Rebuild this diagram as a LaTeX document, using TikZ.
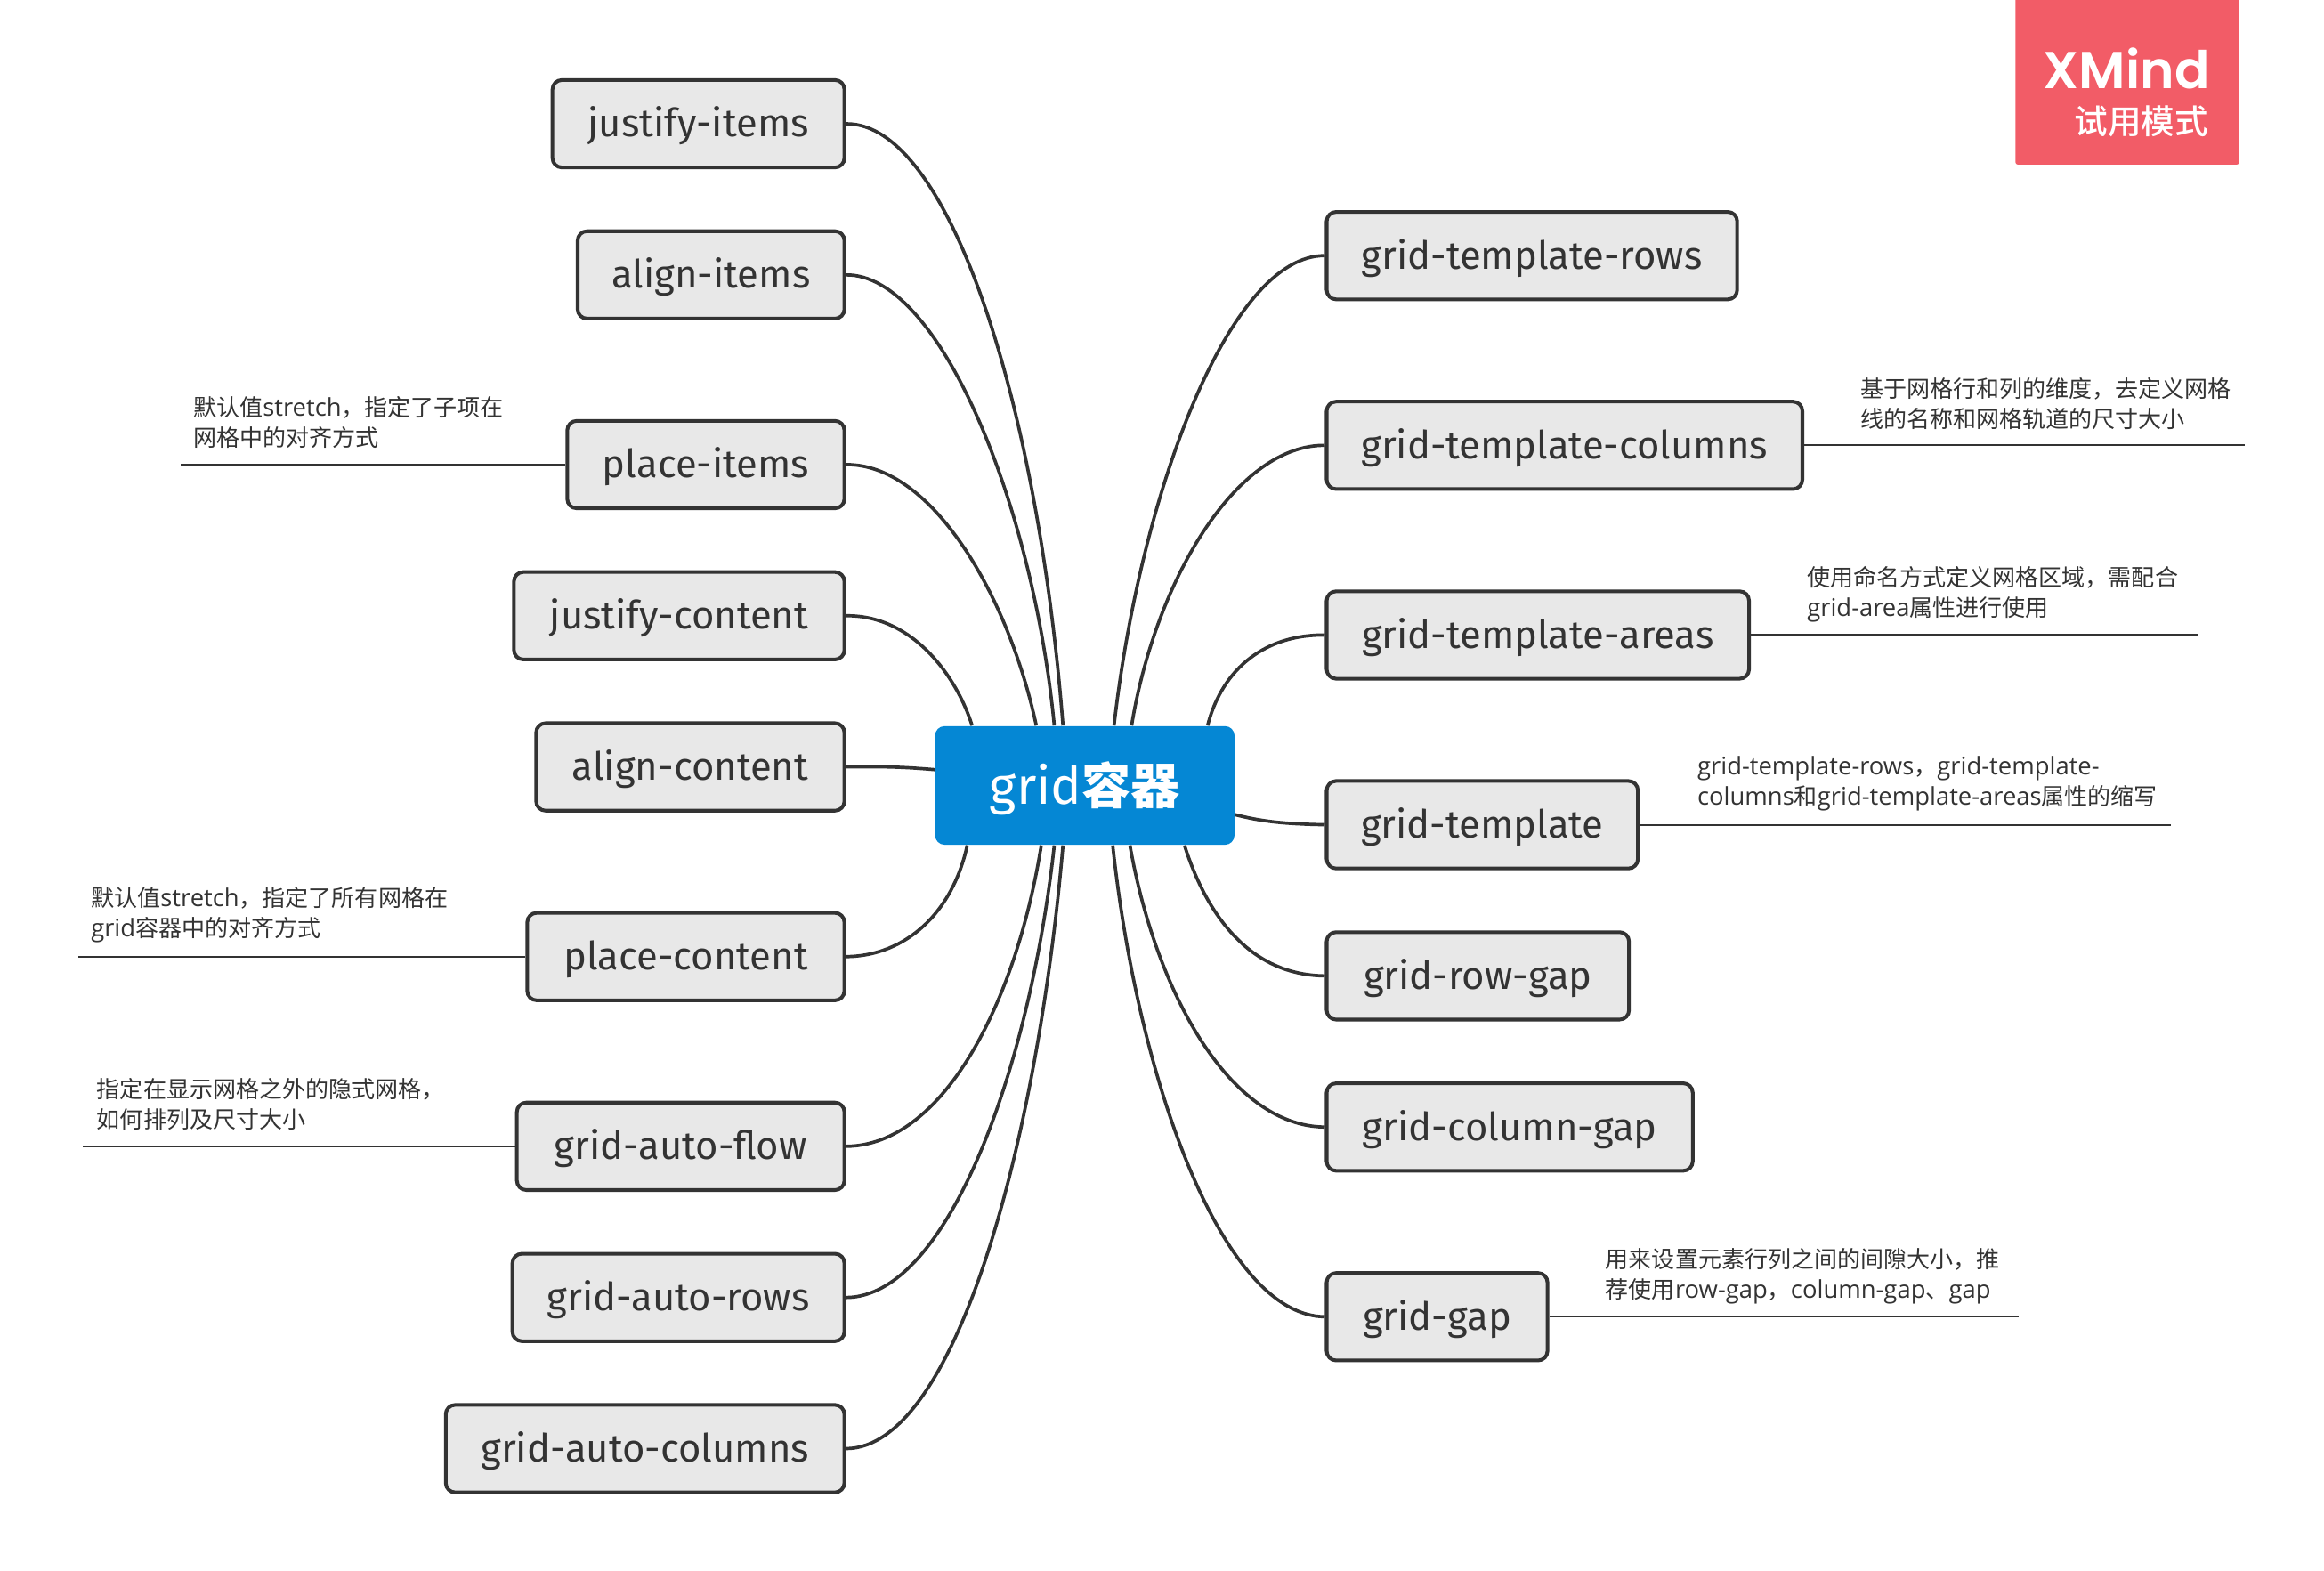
\documentclass[tikz,border=0pt]{standalone}
\usepackage{fontspec}
\setmainfont{Open Sans}
\newfontfamily\cjkfont[Scale=0.95]{Noto Sans CJK SC}
\newfontfamily\topicfont{Fira Sans}
\newfontfamily\badgefont{Poppins SemiBold}
\newfontfamily\badgecjk{Noto Sans CJK SC Medium}
\usepackage{tikz}
\newcommand{\zh}[1]{{\cjkfont #1}}
\definecolor{ink}{HTML}{333333}
\definecolor{topicfill}{HTML}{E8E8E8}
\definecolor{rootblue}{HTML}{0587D4}
\definecolor{badgered}{HTML}{F25C67}
\tikzstyle{mindmap}=[x=0.01665cm, y=-0.01665cm, text=ink]
\tikzstyle{root}=[rectangle, rounded corners=3pt, fill=rootblue, text=white, minimum width=202*0.01665cm, minimum height=80*0.01665cm, inner sep=0pt, text height=13.8pt, text depth=2pt, font=\topicfont\fontsize{16.5}{18}\selectfont]
\tikzstyle{topic}=[rectangle, rounded corners=3pt, draw=ink, line width=1.15pt, fill=topicfill, minimum height=59*0.01665cm, inner sep=0pt, text height=10.5pt, text depth=2pt, font=\topicfont\fontsize{12.4}{14}\selectfont]
\tikzstyle{topicL}=[topic, anchor=east]
\tikzstyle{topicR}=[topic, anchor=west]
\tikzstyle{wd}=[minimum width=#1*0.01665cm]
\tikzstyle{note}=[inner sep=0pt, anchor=west, align=left, font=\fontsize{7.8}{9.7}\selectfont]
\tikzstyle{branch}=[draw=ink, line width=1.05pt]
\tikzstyle{rule}=[draw=ink, line width=0.6pt]
\begin{document}
\begin{tikzpicture}[mindmap]
	\path[use as bounding box] (0,0) rectangle (1568.2,1060);
	
	\node[root] (root) at (732,530) {grid{\bfseries\zh{容器}}};
	
	%The left topics
	\draw (571,83.5) node[topicL, wd=197] (jItems) {justify-items};
	\draw (571,185.5) node[topicL, wd=180] (aItems) {align-items};
	\draw (571,313.5) node[topicL, wd=187] (pItems) {place-items};
	\draw (571,415.5) node[topicL, wd=223] (jContent) {justify-content};
	\draw (571,517.5) node[topicL, wd=208] (aContent) {align-content};
	\draw (571,645.5) node[topicL, wd=214] (pContent) {place-content};
	\draw (571,773.5) node[topicL, wd=221] (autoFlow) {grid-auto-flow};
	\draw (571,875.5) node[topicL, wd=224] (autoRows) {grid-auto-rows};
	\draw (571,977.5) node[topicL, wd=269] (autoCols) {grid-auto-columns};
	
	%The right topics
	\draw (894,172.5) node[topicR, wd=277] (tRows) {grid-template-rows};
	\draw (894,300.5) node[topicR, wd=321] (tCols) {grid-template-columns};
	\draw (894,428.5) node[topicR, wd=285] (tAreas) {grid-template-areas};
	\draw (894,556.5) node[topicR, wd=210] (tAll) {grid-template};
	\draw (894,658.5) node[topicR, wd=204] (rowGap) {grid-row-gap};
	\draw (894,760.5) node[topicR, wd=247] (colGap) {grid-column-gap};
	\draw (894,888.5) node[topicR, wd=149] (allGap) {grid-gap};
	
	%The left branches
	\draw[branch] (jItems.east) .. controls (640,83) and (700,270) .. (root.110.6);
	\draw[branch] (aItems.east) .. controls (634,185) and (697,340) .. (root.117.7);
	\draw[branch] (pItems.east) .. controls (628,313) and (680,400) .. (root.129.5);
	\draw[branch] (jContent.east) .. controls (615,415) and (645,455) .. (root.152.5);
	\draw[branch] (aContent.east) .. controls (600,517) and (615,518) .. (root.174.3);
	\draw[branch] (pContent.east) .. controls (612,645) and (643,615) .. (root.207.5);
	\draw[branch] (autoFlow.east) .. controls (635,773) and (685,680) .. (root.234.1);
	\draw[branch] (autoRows.east) .. controls (640,875) and (695,720) .. (root.243.4);
	\draw[branch] (autoCols.east) .. controls (645,977) and (700,770) .. (root.250.7);
	
	%The right branches
	\draw[branch] (tRows.west) .. controls (830,172) and (770,330) .. (root.64.6);
	\draw[branch] (tCols.west) .. controls (835,300) and (780,390) .. (root.52.2);
	\draw[branch] (tAreas.west) .. controls (855,428) and (825,450) .. (root.26.9);
	\draw[branch] (tAll.west) .. controls (865,556) and (850,554) .. (root.349.4);
	\draw[branch] (rowGap.west) .. controls (845,658) and (815,620) .. (root.329.9);
	\draw[branch] (colGap.west) .. controls (830,760) and (780,670) .. (root.307.8);
	\draw[branch] (allGap.west) .. controls (825,888) and (768,730) .. (root.295.4);
	
	%The notes with their rules
	\node[note] (nItems) at (130,285) {\zh{默认值}stretch\zh{，指定了子项在}\\\zh{网格中的对齐方式}};
	\coordinate (nItemsEnd) at (122,313.5);
	\draw[rule] (pItems.west) -- (nItemsEnd);
	
	\node[note] (nContent) at (61,617.5) {\zh{默认值}stretch\zh{，指定了所有网格在}\\grid\zh{容器中的对齐方式}};
	\coordinate (nContentEnd) at (53,645.5);
	\draw[rule] (pContent.west) -- (nContentEnd);
	
	\node[note] (nFlow) at (65,745) {\zh{指定在显示网格之外的隐式网格，}\\\zh{如何排列及尺寸大小}};
	\coordinate (nFlowEnd) at (56,773.5);
	\draw[rule] (autoFlow.west) -- (nFlowEnd);
	
	\node[note] (nCols) at (1255,272.5) {\zh{基于网格行和列的维度，去定义网格}\\\zh{线的名称和网格轨道的尺寸大小}};
	\coordinate (nColsEnd) at (1515,300.5);
	\draw[rule] (tCols.east) -- (nColsEnd);
	
	\node[note] (nAreas) at (1219,401) {\zh{使用命名方式定义网格区域，需配合}\\grid-area\zh{属性进行使用}};
	\coordinate (nAreasEnd) at (1483,428.5);
	\draw[rule] (tAreas.east) -- (nAreasEnd);
	
	\node[note] (nAll) at (1145,529) {grid-template-rows\zh{，}grid-template-\\columns\zh{和}grid-template-areas\zh{属性的缩写}};
	\coordinate (nAllEnd) at (1465,556.5);
	\draw[rule] (tAll.east) -- (nAllEnd);
	
	\node[note] (nGap) at (1083,861) {\zh{用来设置元素行列之间的间隙大小，推}\\\zh{荐使用}row-gap\zh{，}column-gap\zh{、}gap};
	\coordinate (nGapEnd) at (1362,888.5);
	\draw[rule] (allGap.east) -- (nGapEnd);
	
	%The trial badge
	\node[rectangle, rounded corners=0.7pt, fill=badgered, minimum width=151*0.01665cm, minimum height=121*0.01665cm, inner sep=0pt] (badge) at (1435.5,50.5) {};
	\node[anchor=east, inner sep=0pt, text=white, font=\badgefont\fontsize{16.6}{20}\selectfont] (badgeName) at (1491.5,46) {XMind};
	\node[anchor=east, inner sep=0pt, text=white, font=\badgecjk\fontsize{10.7}{12}\selectfont] (badgeMode) at (1490.5,82) {试用模式};
\end{tikzpicture}
\end{document}
